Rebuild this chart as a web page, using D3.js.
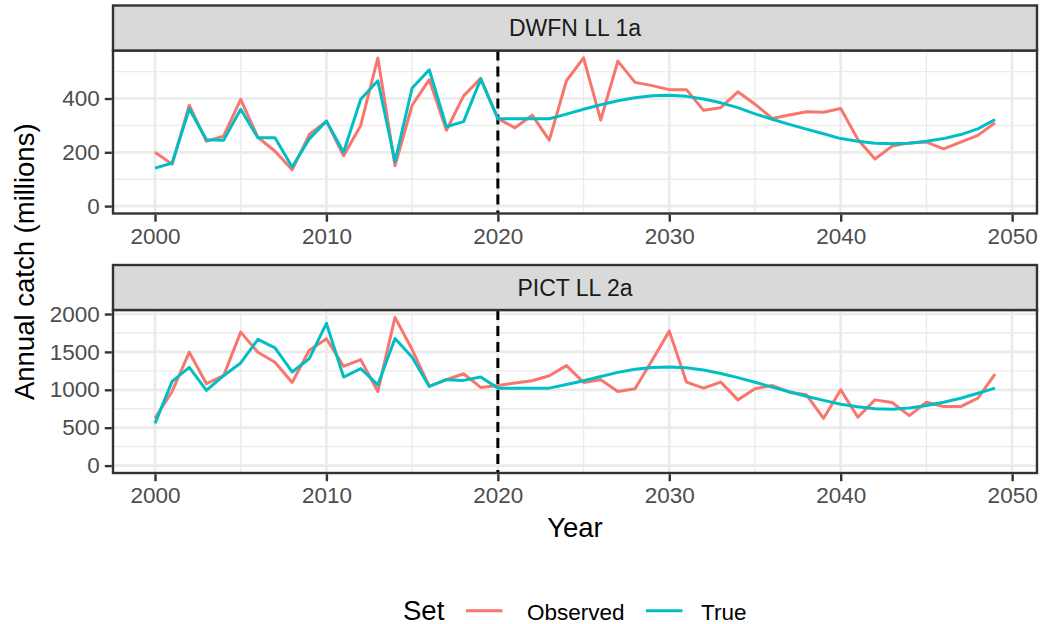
<!DOCTYPE html>
<html>
<head>
<meta charset="utf-8">
<script src="https://cdn.jsdelivr.net/npm/d3@7"></script>
<style>
  body { margin: 0; background: #fff; }
  svg { display: block; font-family: 'Liberation Sans', Arial, sans-serif; }
</style>
</head>
<body>
<div id="chart"></div>
<script>
// Data
const years = d3.range(2000, 2050);
const splitYear = 2020;

const dwfnObserved = [200, 156, 375, 241, 260, 397, 256, 204, 135, 266,
    316, 187, 300, 551, 150, 375, 470, 282, 410, 475,
    325, 291, 338, 245, 466, 551, 320, 539, 460, 448,
    433, 433, 356, 366, 425, 379, 326, 339, 351, 349,
    363, 248, 175, 223, 235, 238, 213, 238, 263, 310];
const dwfnTrue = [141, 160, 362, 247, 245, 360, 254, 254, 145, 250,
    316, 200, 397, 466, 166, 439, 507, 295, 314, 472,
    325, 325, 325, 325, 342, 360, 377, 392, 403, 410,
    412, 408, 398, 384, 366, 343, 323, 304, 286, 269,
    251, 241, 234, 232, 234, 241, 251, 266, 287, 322];
const pictObserved = [624, 978, 1496, 1080, 1186, 1761, 1496, 1363, 1097, 1522,
    1673, 1310, 1398, 978, 1955, 1531, 1044, 1133, 1212, 1031,
    1058, 1089, 1120, 1186, 1319, 1097, 1133, 978, 1013, 1389,
    1774, 1102, 1022, 1102, 867, 1013, 1058, 969, 934, 624,
    1000, 637, 867, 832, 659, 836, 779, 779, 889, 1208];
const pictTrue = [557, 1111, 1296, 991, 1186, 1354, 1664, 1553, 1235, 1412,
    1876, 1168, 1279, 1066, 1677, 1429, 1044, 1133, 1124, 1168,
    1022, 1022, 1022, 1022, 1070, 1120, 1175, 1230, 1270, 1295,
    1300, 1290, 1260, 1215, 1160, 1100, 1035, 975, 915, 860,
    810, 775, 750, 743, 761, 792, 836, 889, 955, 1022];

const xTicks = [2000, 2010, 2020, 2030, 2040, 2050];
const dwfnTicks = [0, 200, 400];
const pictTicks = [0, 500, 1000, 1500, 2000];
const setNames = ['Observed', 'True'];
const setColors = ['#F8766D', '#00BFC4'];

const panels = [
    { label: 'DWFN LL 1a', series: [dwfnObserved, dwfnTrue], ticks: dwfnTicks, top: 5.5 },
    { label: 'PICT LL 2a', series: [pictObserved, pictTrue], ticks: pictTicks, top: 265 }
];

const chart = {
    width: 1042,
    height: 624,
    left: 113,
    right: 1037,
    strip: 45,
    panel: 163
};

const svg = d3.select('#chart')
    .append('svg')
    .attr('width', chart.width)
    .attr('height', chart.height);

// ggplot-style 5% expansion
function expand(lo, hi) {
    const pad = (hi - lo) * 0.05;
    return [lo - pad, hi + pad];
}

const xExt = d3.extent(years);
const xScale = d3.scaleLinear()
    .domain(expand(xExt[0], xExt[1]))
    .range([chart.left, chart.right]);
const xMinor = [2005, 2015, 2025, 2035, 2045];

const color = d3.scaleOrdinal().domain(setNames).range(setColors);

panels.forEach(p => {
    const y0 = p.top + chart.strip;
    const y1 = y0 + chart.panel;
    const yMax = d3.max(p.series, s => d3.max(s));
    const yScale = d3.scaleLinear()
        .domain(expand(0, yMax))
        .range([y1, y0]);
    const step = p.ticks[1] - p.ticks[0];
    const yMinor = p.ticks.map(t => t + step / 2).filter(t => t < yScale.domain()[1]);

    const g = svg.append('g');

    // grid
    g.selectAll('.minor-x').data(xMinor).enter().append('line')
        .attr('x1', d => xScale(d)).attr('x2', d => xScale(d))
        .attr('y1', y0).attr('y2', y1)
        .attr('stroke', '#EBEBEB').attr('stroke-width', 1.4);
    g.selectAll('.minor-y').data(yMinor).enter().append('line')
        .attr('x1', chart.left).attr('x2', chart.right)
        .attr('y1', d => yScale(d)).attr('y2', d => yScale(d))
        .attr('stroke', '#EBEBEB').attr('stroke-width', 1.4);
    g.selectAll('.major-x').data(xTicks).enter().append('line')
        .attr('x1', d => xScale(d)).attr('x2', d => xScale(d))
        .attr('y1', y0).attr('y2', y1)
        .attr('stroke', '#EBEBEB').attr('stroke-width', 2.7);
    g.selectAll('.major-y').data(p.ticks).enter().append('line')
        .attr('x1', chart.left).attr('x2', chart.right)
        .attr('y1', d => yScale(d)).attr('y2', d => yScale(d))
        .attr('stroke', '#EBEBEB').attr('stroke-width', 2.7);

    // dashed split line
    g.append('line')
        .attr('x1', xScale(splitYear)).attr('x2', xScale(splitYear))
        .attr('y1', y0).attr('y2', y1)
        .attr('stroke', '#000').attr('stroke-width', 3)
        .attr('stroke-dasharray', '10,6');

    // lines
    const line = d3.line()
        .x((d, i) => xScale(years[i]))
        .y(d => yScale(d));
    g.selectAll('.series').data(p.series).enter().append('path')
        .attr('d', d => line(d))
        .attr('fill', 'none')
        .attr('stroke', (d, i) => color(setNames[i]))
        .attr('stroke-width', 3)
        .attr('stroke-linejoin', 'round');

    // panel border
    g.append('rect')
        .attr('x', chart.left).attr('y', y0)
        .attr('width', chart.right - chart.left).attr('height', chart.panel)
        .attr('fill', 'none').attr('stroke', '#333333').attr('stroke-width', 2.4);

    // strip
    g.append('rect')
        .attr('x', chart.left).attr('y', p.top)
        .attr('width', chart.right - chart.left).attr('height', chart.strip)
        .attr('fill', '#D9D9D9').attr('stroke', '#333333').attr('stroke-width', 2.4);
    g.append('text')
        .attr('x', (chart.left + chart.right) / 2)
        .attr('y', p.top + chart.strip / 2)
        .attr('dy', '0.36em')
        .attr('text-anchor', 'middle')
        .attr('font-size', 23)
        .attr('fill', '#1A1A1A')
        .text(p.label);

    // y axis
    const yAxis = d3.axisLeft(yScale)
        .tickValues(p.ticks)
        .tickSize(7)
        .tickPadding(5)
        .tickFormat(d3.format('d'));
    const ya = g.append('g')
        .attr('transform', `translate(${chart.left - 1.2},0)`)
        .call(yAxis);
    ya.select('.domain').remove();
    ya.selectAll('line').attr('stroke', '#333333').attr('stroke-width', 2.4);
    ya.selectAll('text')
        .attr('font-size', 22.5)
        .attr('fill', '#4D4D4D')
        .attr('font-family', "'Liberation Sans', Arial, sans-serif");

    // x axis
    const xAxis = d3.axisBottom(xScale)
        .tickValues(xTicks)
        .tickSize(7)
        .tickPadding(6)
        .tickFormat(d3.format('d'));
    const xa = g.append('g')
        .attr('transform', `translate(0,${y1 + 1.2})`)
        .call(xAxis);
    xa.select('.domain').remove();
    xa.selectAll('line').attr('stroke', '#333333').attr('stroke-width', 2.4);
    xa.selectAll('text')
        .attr('font-size', 22.5)
        .attr('fill', '#4D4D4D')
        .attr('font-family', "'Liberation Sans', Arial, sans-serif");
});

// axis titles
svg.append('text')
    .attr('x', (chart.left + chart.right) / 2)
    .attr('y', 537)
    .attr('text-anchor', 'middle')
    .attr('font-size', 27.5)
    .attr('fill', '#000')
    .text('Year');

svg.append('text')
    .attr('transform', `translate(34, ${(panels[0].top + chart.strip + panels[1].top + chart.strip + chart.panel) / 2}) rotate(-90)`)
    .attr('text-anchor', 'middle')
    .attr('font-size', 27.5)
    .attr('fill', '#000')
    .text('Annual catch (millions)');

// legend
const legend = svg.append('g').classed('legend', true);
legend.append('text')
    .attr('x', 403).attr('y', 619.5)
    .attr('font-size', 27.5)
    .attr('fill', '#000')
    .text('Set');
const keys = [{ x: 466, tx: 527 }, { x: 646, tx: 701 }];
setNames.forEach((name, i) => {
    legend.append('line')
        .attr('x1', keys[i].x).attr('x2', keys[i].x + 36.5)
        .attr('y1', 610.7).attr('y2', 610.7)
        .attr('stroke', color(name)).attr('stroke-width', 3);
    legend.append('text')
        .attr('x', keys[i].tx).attr('y', 619.5)
        .attr('font-size', 22.5)
        .attr('fill', '#000')
        .text(name);
});
</script>
</body>
</html>
